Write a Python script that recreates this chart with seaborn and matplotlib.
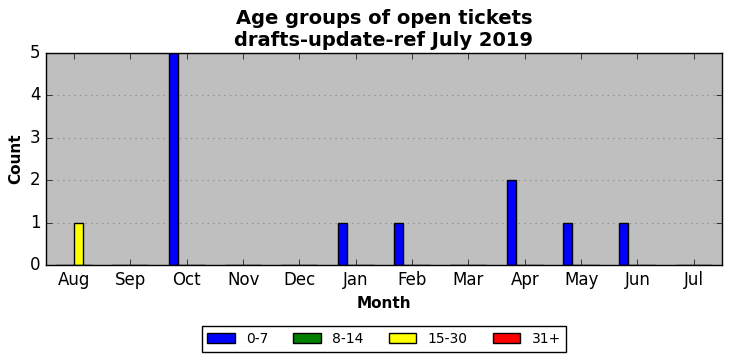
import pandas as pd
import matplotlib
matplotlib.use('Agg')
import matplotlib.pyplot as plt
from matplotlib.patches import Patch
import seaborn as sns

months = ['Aug', 'Sep', 'Oct', 'Nov', 'Dec', 'Jan', 'Feb', 'Mar', 'Apr', 'May', 'Jun', 'Jul']
age_groups = ['0-7', '8-14', '15-30', '31+']
colors = ['blue', 'green', 'yellow', 'red']

count_0_7 = [0, 0, 5, 0, 0, 1, 1, 0, 2, 1, 1, 0]
count_8_14 = [0, 0, 0, 0, 0, 0, 0, 0, 0, 0, 0, 0]
count_15_30 = [1, 0, 0, 0, 0, 0, 0, 0, 0, 0, 0, 0]
count_31 = [0, 0, 0, 0, 0, 0, 0, 0, 0, 0, 0, 0]

rows = []
for group, counts in zip(age_groups, [count_0_7, count_8_14, count_15_30, count_31]):
    for m, c in zip(months, counts):
        rows.append({'Month': m, 'Count': c, 'Age': group})
df = pd.DataFrame(rows)

plt.style.use('classic')
fig = plt.figure(figsize=(7.32, 3.61), dpi=100)
ax = fig.add_axes([0.0628, 0.2659, 0.9235, 0.5873])

sns.barplot(data=df, x='Month', y='Count', hue='Age', order=months, hue_order=age_groups,
            palette=colors, width=0.64, gap=0, edgecolor='black', linewidth=1,
            saturation=1, errorbar=None, legend=False, ax=ax)

ax.set_facecolor('#bfbfbf')
ax.set_xlim(-0.5, 11.5)
ax.set_ylim(0, 5)
ax.yaxis.grid(True, linestyle=':', color='0.55', linewidth=0.8)
ax.set_axisbelow(True)
ax.tick_params(labelsize=12)

ax.set_title('Age groups of open tickets\ndrafts-update-ref July 2019', fontsize=14, fontweight='bold')
ax.set_xlabel('Month', fontsize=11, fontweight='bold')
ax.set_ylabel('Count', fontsize=11, fontweight='bold')

# legend below the axes
handles = [Patch(facecolor=c, edgecolor='black', label=g) for g, c in zip(age_groups, colors)]
ax.legend(handles=handles, loc='upper center', bbox_to_anchor=(0.5, -0.257), ncol=4,
          fontsize=10, frameon=True, fancybox=False, columnspacing=1.8)

fig.savefig('out.png', dpi=100)
